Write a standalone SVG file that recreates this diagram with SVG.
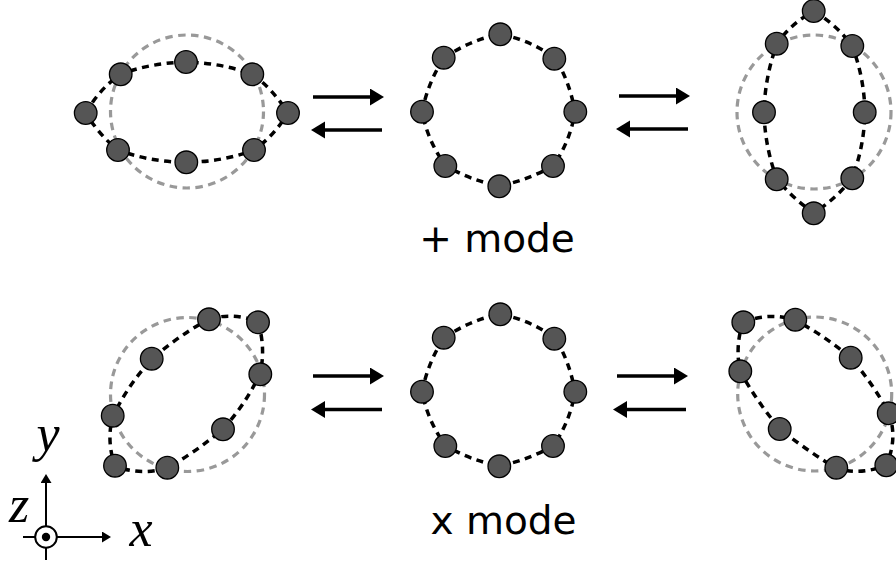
<svg xmlns="http://www.w3.org/2000/svg" width="896" height="564" viewBox="0 0 896 564">
  <style>
    .bead { fill: #555555; stroke: #000000; stroke-width: 1.3; }
    .rest { fill: none; stroke: #999999; stroke-width: 3.2; stroke-dasharray: 7.5 5.5; }
    .ring { fill: none; stroke: #000000; stroke-width: 3.5; stroke-dasharray: 7 5.5; }
    .shaft { fill: none; stroke: #000000; stroke-width: 3.4; }
    .axis { fill: none; stroke: #000000; stroke-width: 2; }
    .mode { font-family: "DejaVu Sans", sans-serif; font-size: 39px; fill: #000000; text-anchor: middle; }
    .math { font-family: "Liberation Serif", serif; font-style: italic; font-size: 52px; fill: #000000; text-anchor: middle; }
  </style>
  <defs>
    <!-- shafts stop inside the head so the tips stay sharp -->
    <marker id="head" markerUnits="userSpaceOnUse" markerWidth="15" markerHeight="18" refX="4" refY="8.5" orient="auto">
      <path d="M0,0 L14,8.5 L0,17 Z" fill="#000000"/>
    </marker>
    <marker id="axis-head" markerUnits="userSpaceOnUse" markerWidth="10" markerHeight="12" refX="3" refY="5.5" orient="auto">
      <path d="M0,0 L9,5.5 L0,11 Z" fill="#000000"/>
    </marker>
    <circle id="b" r="11.3" class="bead"/>
  </defs>

  <g id="connectors">
    <!-- resting rings -->
    <circle class="rest" cx="187" cy="111.5" r="76.5"/>
    <circle class="rest" cx="814" cy="112" r="77"/>
    <circle class="rest" cx="187.5" cy="394.5" r="77"/>
    <circle class="rest" cx="814.7" cy="394" r="77"/>
    <!-- deformed rings -->
    <path class="ring" d="M85.7,113 Q100,88 120.7,74.3 Q150,63 186,62 Q222,63 252.3,74.3 Q272,88 288,113 Q274,136 254,150 Q222,162 186.3,162.3 Q150,162 118,150 Q100,136 85.7,113 Z"/>
    <path class="ring" d="M444,58 Q470,40 500,34 Q530,40 555,58 Q570,82 575,112 Q570,142 553,166 Q528,180 499,186 Q470,180 446,166 Q428,142 422,112 Q428,82 444,58 Z"/>
    <path class="ring" d="M814,11 Q838,26 852,46 Q864,76 865,112 Q864,148 852,178 Q837,198 814,213 Q792,198 777,179 Q765,148 764,112 Q765,76 777,44 Q790,24 814,11 Z"/>
    <path class="ring" d="M209,319 Q235,312 258,322 Q266,348 260,374 Q245,405 223,429 Q196,452 167,468 Q140,476 115,466 Q106,440 113,416 Q128,385 152,359 Q178,336 209,319 Z"/>
    <path class="ring" d="M444,338 Q470,320 500,314 Q530,320 555,338 Q570,362 575,392 Q570,422 553,446 Q528,460 499,466 Q470,460 446,446 Q428,422 422,392 Q428,362 444,338 Z"/>
    <path class="ring" d="M743,322 Q770,312 795,320 Q825,336 851,358 Q873,384 889,413 Q898,440 886,465 Q860,476 836,468 Q806,450 780,429 Q757,402 740,371 Q735,346 743,322 Z"/>
    <!-- transition arrows -->
    <path class="shaft" d="M313,97 H374" marker-end="url(#head)"/>
    <path class="shaft" d="M382,130 H321" marker-end="url(#head)"/>
    <path class="shaft" d="M619,96 H680" marker-end="url(#head)"/>
    <path class="shaft" d="M688,129 H626" marker-end="url(#head)"/>
    <path class="shaft" d="M313,376 H374" marker-end="url(#head)"/>
    <path class="shaft" d="M382,409.5 H321" marker-end="url(#head)"/>
    <path class="shaft" d="M617,376 H678" marker-end="url(#head)"/>
    <path class="shaft" d="M686,409.5 H623" marker-end="url(#head)"/>
  </g>

  <g id="plus-stretched-x">
    <use href="#b" x="85.7" y="113"/><use href="#b" x="120.7" y="74.3"/><use href="#b" x="186" y="62"/><use href="#b" x="252.3" y="74.3"/>
    <use href="#b" x="288" y="113"/><use href="#b" x="254" y="150"/><use href="#b" x="186.3" y="162.3"/><use href="#b" x="118" y="150"/>
  </g>
  <g id="plus-rest">
    <use href="#b" x="443.7" y="57.7"/><use href="#b" x="500.3" y="34.3"/><use href="#b" x="554.3" y="58.7"/><use href="#b" x="575.3" y="111.7"/>
    <use href="#b" x="553" y="166"/><use href="#b" x="499.3" y="186.3"/><use href="#b" x="445.3" y="166"/><use href="#b" x="422" y="111.7"/>
  </g>
  <g id="plus-stretched-y">
    <use href="#b" x="813.7" y="11"/><use href="#b" x="852.3" y="46"/><use href="#b" x="864.7" y="112.3"/><use href="#b" x="852.3" y="178.3"/>
    <use href="#b" x="813.7" y="213.3"/><use href="#b" x="776.7" y="179.3"/><use href="#b" x="764" y="112.3"/><use href="#b" x="776.7" y="43.7"/>
  </g>
  <g id="cross-stretched-a">
    <use href="#b" x="209" y="319.3"/><use href="#b" x="258" y="322.3"/><use href="#b" x="260.3" y="374.3"/><use href="#b" x="223" y="429.3"/>
    <use href="#b" x="167.3" y="467.7"/><use href="#b" x="115" y="465.7"/><use href="#b" x="112.7" y="415.7"/><use href="#b" x="151.7" y="358.7"/>
  </g>
  <g id="cross-rest">
    <use href="#b" x="443.7" y="337.7"/><use href="#b" x="500.3" y="314.3"/><use href="#b" x="554.3" y="338.7"/><use href="#b" x="575.3" y="391.7"/>
    <use href="#b" x="553" y="446"/><use href="#b" x="499.3" y="466.3"/><use href="#b" x="445.3" y="446"/><use href="#b" x="422" y="391.7"/>
  </g>
  <g id="cross-stretched-b">
    <use href="#b" x="743.3" y="322.3"/><use href="#b" x="795.3" y="319.7"/><use href="#b" x="850.7" y="357.7"/><use href="#b" x="888.7" y="413.3"/>
    <use href="#b" x="886.3" y="465.3"/><use href="#b" x="836.3" y="467.7"/><use href="#b" x="779.7" y="429"/><use href="#b" x="740.3" y="371.3"/>
  </g>

  <g id="labels">
    <text class="mode" x="497" y="252">+ mode</text>
    <text class="mode" x="503.5" y="534">x mode</text>
  </g>

  <g id="axes">
    <path class="axis" d="M46,560 V480" marker-end="url(#axis-head)"/>
    <path class="axis" d="M23,537 H105" marker-end="url(#axis-head)"/>
    <circle cx="46" cy="537" r="10.8" fill="#ffffff" stroke="#000000" stroke-width="2"/>
    <circle cx="46" cy="537" r="4.2" fill="#000000"/>
    <text class="math" x="48" y="451">y</text>
    <text class="math" x="19" y="522">z</text>
    <text class="math" x="141" y="546">x</text>
  </g>
</svg>
